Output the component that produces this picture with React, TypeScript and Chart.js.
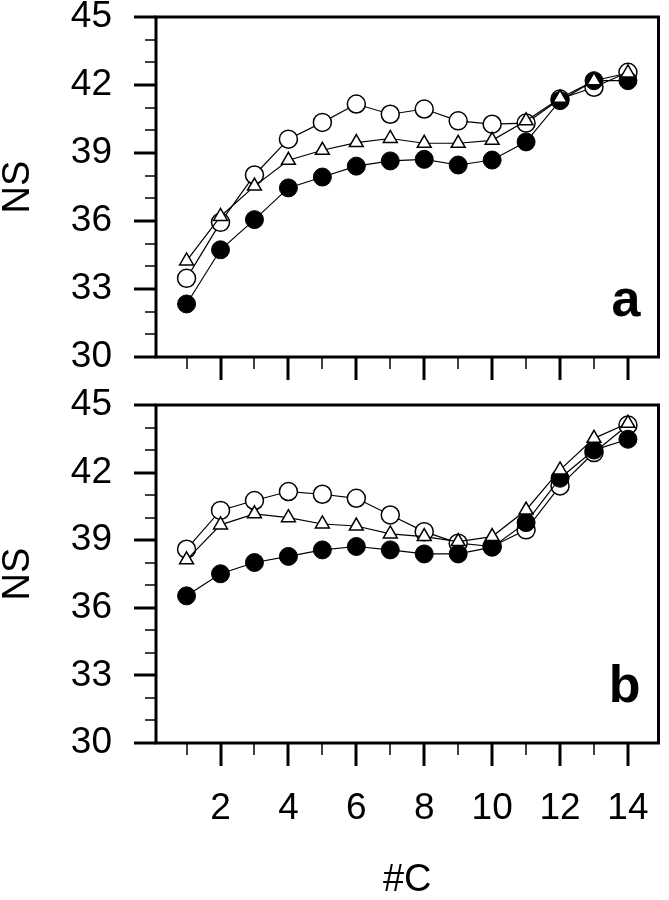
import React, { useEffect, useRef } from 'react';
import { Chart, registerables } from 'chart.js';

Chart.register(...registerables);

const xValues = [1, 2, 3, 4, 5, 6, 7, 8, 9, 10, 11, 12, 13, 14];

const aFilled = [32.34, 34.73, 36.06, 37.46, 37.94, 38.42, 38.65, 38.72, 38.47, 38.69, 39.49, 41.31, 42.19, 42.19];
const aOpen = [33.47, 35.94, 38.03, 39.61, 40.35, 41.16, 40.71, 40.94, 40.42, 40.27, 40.32, 41.38, 41.9, 42.56];
const aTriangle = [34.24, 36.2, 37.54, 38.68, 39.12, 39.46, 39.64, 39.43, 39.43, 39.56, 40.42, 41.42, 42.19, 42.53];

const bFilled = [36.53, 37.51, 38.01, 38.28, 38.57, 38.72, 38.57, 38.39, 38.39, 38.69, 39.78, 41.75, 43.0, 43.48];
const bOpen = [38.6, 40.32, 40.76, 41.16, 41.04, 40.86, 40.12, 39.38, 38.87, 38.72, 39.46, 41.41, 42.89, 44.11];
const bTriangle = [38.13, 39.68, 40.17, 40.0, 39.72, 39.63, 39.28, 39.16, 38.94, 39.16, 40.34, 42.12, 43.52, 44.19];

const yTicks = [30, 33, 36, 39, 42, 45];
const xTickLabels = [2, 4, 6, 8, 10, 12, 14];
const panelLabels = ['a', 'b'];
const yTitle = 'NS';
const xTitle = '#C';

const FONT = "'Liberation Sans', Arial, sans-serif";
const W = 669;

const framePlugin = {
  id: 'frameTicks',
  afterDatasetsDraw(chart: any, _args: any, opts: any) {
    const { ctx, chartArea } = chart;
    const xs = chart.scales.x;
    const ys = chart.scales.y;
    ctx.save();
    ctx.strokeStyle = '#000';
    ctx.lineCap = 'butt';
    for (let v = 30; v <= 45; v++) {
      const major = v % 3 === 0;
      const py = Math.round(ys.getPixelForValue(v));
      ctx.lineWidth = major ? 3 : 1.5;
      ctx.beginPath();
      ctx.moveTo(chartArea.left - (major ? 22 : 11), py);
      ctx.lineTo(chartArea.left, py);
      ctx.stroke();
    }
    for (let v = 1; v <= 14; v++) {
      const major = v % 2 === 0;
      const px = Math.round(xs.getPixelForValue(v));
      ctx.lineWidth = major ? 3 : 1.5;
      ctx.beginPath();
      ctx.moveTo(px, chartArea.bottom);
      ctx.lineTo(px, chartArea.bottom + (major ? 23 : 12));
      ctx.stroke();
    }
    ctx.lineWidth = 3;
    ctx.strokeRect(chartArea.left, chartArea.top, chartArea.right - chartArea.left, chartArea.bottom - chartArea.top);
    ctx.fillStyle = '#000';
    ctx.font = `bold 52px ${FONT}`;
    ctx.textAlign = 'right';
    ctx.textBaseline = 'alphabetic';
    ctx.fillText(opts.label, chartArea.right - 18, chartArea.bottom - 41);
    ctx.restore();
  },
};

const zeroPad = (s: any) => {
  s.paddingLeft = 0;
  s.paddingRight = 0;
  s.paddingTop = 0;
  s.paddingBottom = 0;
};

function buildConfig(filled: number[], open: number[], tri: number[], label: string, padTop: number, xAxisHeight: number, showX: boolean) {
  const pts = (arr: number[]) => xValues.map((x, i) => ({ x, y: arr[i] }));
  const common = { borderColor: '#000', borderWidth: 1.2, fill: false, pointBorderColor: '#000' };
  return {
    type: 'line',
    data: {
      datasets: [
        { ...common, data: pts(tri), pointStyle: 'triangle', pointRadius: 8, pointBackgroundColor: '#fff', pointBorderWidth: 1.5 },
        { ...common, data: pts(filled), pointStyle: 'circle', pointRadius: 9, pointBackgroundColor: '#000', pointBorderWidth: 1 },
        { ...common, data: pts(open), pointStyle: 'circle', pointRadius: 9, pointBackgroundColor: '#fff', pointBorderWidth: 1.5 },
      ],
    },
    options: {
      responsive: false,
      animation: false,
      events: [],
      layout: { padding: { top: padTop, left: 0, right: W - 663, bottom: 0 } },
      plugins: {
        legend: { display: false },
        tooltip: { enabled: false },
        frameTicks: { label },
      },
      scales: {
        x: {
          type: 'linear',
          min: 0.1,
          max: 14.9,
          grid: { display: false, drawTicks: false },
          border: { display: false },
          afterBuildTicks: (s: any) => {
            s.ticks = xTickLabels.map((v) => ({ value: v }));
          },
          afterFit: (s: any) => {
            s.height = xAxisHeight;
            zeroPad(s);
          },
          ticks: {
            display: showX,
            padding: 44,
            color: '#000',
            font: { family: FONT, size: 37 },
            maxRotation: 0,
            autoSkip: false,
          },
          title: {
            display: showX,
            text: xTitle,
            color: '#000',
            font: { family: FONT, size: 38, lineHeight: 1 },
            padding: { top: 0, bottom: 0 },
          },
        },
        y: {
          type: 'linear',
          min: 30,
          max: 45,
          grid: { display: false, drawTicks: false },
          border: { display: false },
          afterBuildTicks: (s: any) => {
            s.ticks = yTicks.map((v) => ({ value: v }));
          },
          afterFit: (s: any) => {
            s.width = 156;
            zeroPad(s);
          },
          ticks: {
            padding: 44,
            color: '#000',
            font: { family: FONT, size: 37 },
          },
          title: {
            display: true,
            text: yTitle,
            color: '#000',
            font: { family: FONT, size: 38, lineHeight: 1 },
            padding: { top: 0, bottom: 0 },
          },
        },
      },
    },
    plugins: [framePlugin],
  };
}

function Panel({ which }: { which: number }) {
  const ref = useRef<HTMLCanvasElement | null>(null);
  const top = which === 0 ? 0 : 380;
  const height = which === 0 ? 400 : 520;
  useEffect(() => {
    if (!ref.current) return;
    const cfg =
      which === 0
        ? buildConfig(aFilled, aOpen, aTriangle, panelLabels[0], 17, 400 - 357, false)
        : buildConfig(bFilled, bOpen, bTriangle, panelLabels[1], 405 - 380, 900 - 743, true);
    const chart = new Chart(ref.current, cfg as any);
    return () => chart.destroy();
  }, [which]);
  return (
    <canvas
      ref={ref}
      width={W}
      height={height}
      style={{ position: 'absolute', left: 0, top, width: W, height }}
    />
  );
}

export default function App() {
  return (
    <div style={{ position: 'fixed', left: 0, top: 0, width: W, height: 900, background: '#fff' }}>
      <Panel which={0} />
      <Panel which={1} />
    </div>
  );
}
